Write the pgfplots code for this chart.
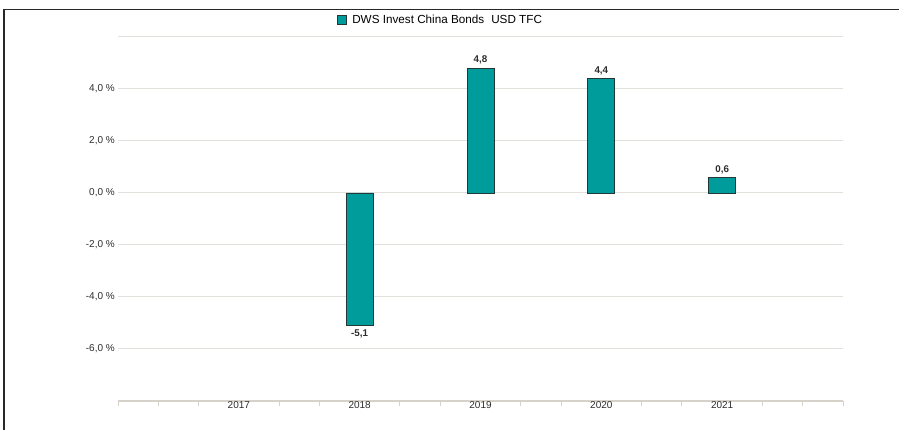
\documentclass[border=0pt]{standalone}
\usepackage{fontspec}
\setmainfont{Liberation Sans}
\usepackage{pgfplots}
\pgfplotsset{compat=1.18}
\definecolor{barfill}{RGB}{0,156,156}
\definecolor{bardraw}{RGB}{35,55,55}
\definecolor{gridc}{RGB}{226,224,218}
\definecolor{axisc}{RGB}{214,210,202}
\definecolor{txt}{RGB}{45,45,45}
\definecolor{framec}{RGB}{40,40,40}
\begin{document}
\begin{tikzpicture}[x=1pt,y=1pt]
\useasboundingbox (0,0) rectangle (899,430);
\draw[line width=1.5pt, framec] (4,0) -- (4,420.5) -- (899,420.5);
\begin{axis}[
  at={(118pt,29pt)}, anchor=south west,
  scale only axis, width=725pt, height=364pt,
  xmin=-1, xmax=5, ymin=-8, ymax=6,
  ybar, bar width=27pt,
  xtick={0,1,2,3,4}, xticklabels={2017,2018,2019,2020,2021},
  minor xtick={-1,-0.66667,-0.33333,0.33333,0.66667,1.33333,1.66667,2.33333,2.66667,3.33333,3.66667,4.33333,4.66667,5},
  ytick={-6,-4,-2,0,2,4,6},
  yticklabels={{-6,0 \%},{-4,0 \%},{-2,0 \%},{0,0 \%},{2,0 \%},{4,0 \%},{}},
  ymajorgrids, grid style={gridc, line width=1pt},
  axis lines*=left,
  x axis line style={axisc, line width=1.8pt, -},
  y axis line style={draw=none},
  tick align=outside,
  major tick length=0pt, minor tick length=5pt,
  minor x tick style={axisc, line width=1pt},
  major y tick style={draw=none},
  xticklabel style={font=\fontsize{10}{12}\selectfont, text=txt, inner sep=1pt, yshift=1pt},
  yticklabel style={font=\fontsize{10}{12}\selectfont, text=txt, inner sep=1pt, xshift=-2pt},
  /pgf/number format/assume math mode=true,
  nodes near coords={\pgfmathprintnumber[fixed,fixed zerofill,precision=1,use comma]{\pgfplotspointmeta}},
  nodes near coords style={font=\bfseries\fontsize{9.8}{11}\selectfont, text=txt},
  legend style={at={(0.4455,1.047)}, anchor=center, draw=none, fill=none,
    font=\fontsize{11.7}{14}\selectfont, inner sep=0pt, nodes={inner sep=2.5pt}},
]
\addplot[fill=barfill, draw=bardraw, line width=0.8pt,
  legend image code/.code={\draw[fill=barfill,draw=bardraw,line width=0.8pt] (0pt,-4.5pt) rectangle (9pt,4.5pt);}]
  coordinates {(1,-5.1) (2,4.8) (3,4.4) (4,0.6)};
\addlegendentry{\hspace{2.5pt}DWS Invest China Bonds\hspace{0.6em}USD TFC}
\end{axis}
\end{tikzpicture}
\end{document}
